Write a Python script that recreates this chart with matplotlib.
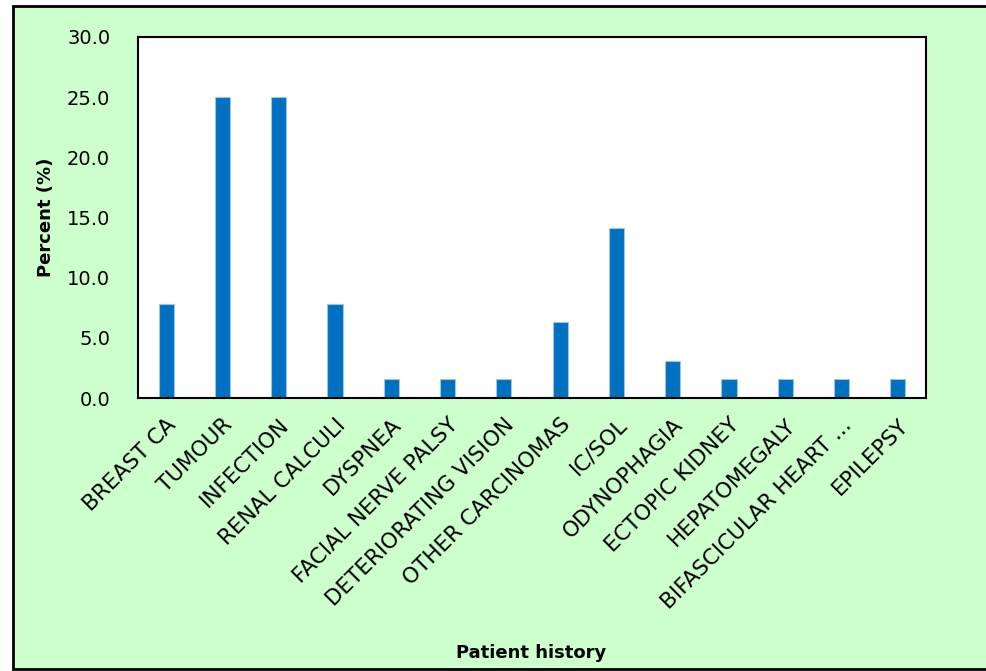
import matplotlib.pyplot as plt
from matplotlib.patches import Rectangle
import numpy as np

categories = ['BREAST CA', 'TUMOUR', 'INFECTION', 'RENAL CALCULI', 'DYSPNEA',
              'FACIAL NERVE PALSY', 'DETERIORATING VISION', 'OTHER CARCINOMAS',
              'IC/SOL', 'ODYNOPHAGIA', 'ECTOPIC KIDNEY', 'HEPATOMEGALY',
              'BIFASCICULAR HEART ...', 'EPILEPSY']
percent = [7.8, 25.0, 25.0, 7.8, 1.6, 1.6, 1.6, 6.3, 14.1, 3.1, 1.6, 1.6, 1.6, 1.6]
yticks = [0, 5, 10, 15, 20, 25, 30]

fig = plt.figure(figsize=(9.87, 6.71), dpi=100, facecolor='white')

# green panel with black frame behind the plot
fig.patches.append(Rectangle((13 / 987, 2 / 671), 1.0, 663 / 671, transform=fig.transFigure,
                             facecolor='#CCFFCC', edgecolor='black', linewidth=2, zorder=-5))

ax = fig.add_axes([138 / 987, 1 - 398 / 671, (926 - 138) / 987, (398 - 37) / 671])
ax.set_facecolor('white')

x = np.arange(len(categories))
ax.bar(x, percent, width=0.27, color='#0070C0', edgecolor='#9DC3E6', linewidth=0.8)

ax.set_xlim(-0.5, len(categories) - 0.5)
ax.set_ylim(0, 30)
ax.set_yticks(yticks)
ax.set_yticklabels(['%.1f' % v for v in yticks], fontsize=14)
ax.set_xticks(x)
ax.set_xticklabels(categories, rotation=45, ha='right', rotation_mode='anchor', fontsize=15.5)
ax.tick_params(axis='y', length=0, pad=20)
ax.tick_params(axis='x', length=0, pad=12)

for s in ax.spines.values():
    s.set_color('black')
    s.set_linewidth(1.5)

ax.set_ylabel('Percent (%)', fontsize=13, fontweight='bold')
ax.yaxis.set_label_coords(-0.105, 0.5)
fig.text(531 / 987, 1 - 653 / 671, 'Patient history', fontsize=13, fontweight='bold',
         ha='center', va='center')

fig.savefig('out.png', dpi=100, facecolor=fig.get_facecolor())
